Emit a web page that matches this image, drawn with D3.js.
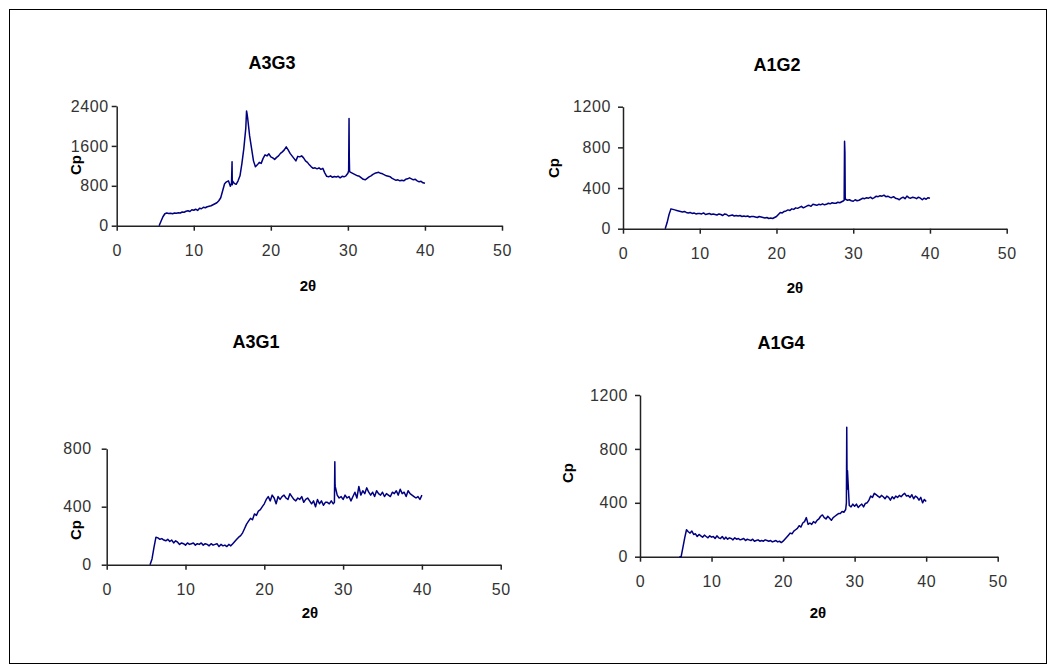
<!DOCTYPE html>
<html>
<head>
<meta charset="utf-8">
<script src="https://cdn.jsdelivr.net/npm/d3@7"></script>
<style>
html,body{margin:0;padding:0;background:#fff;}
svg{display:block;}
</style>
</head>
<body>
<svg id="chart" width="1055" height="672"></svg>
<script>
// ---------- DATA ----------
const twoTheta = [5.5,5.75,6,6.25,6.5,6.75,7,7.25,7.5,7.75,8,8.25,8.5,8.75,9,9.25,9.5,9.75,10,10.25,10.5,10.75,11,11.25,11.5,11.75,12,12.25,12.5,12.75,13,13.25,13.5,13.75,14,14.25,14.5,14.75,15,15.25,15.5,15.75,16,16.25,16.5,16.75,17,17.25,17.5,17.75,18,18.25,18.5,18.75,19,19.25,19.5,19.75,20,20.25,20.5,20.75,21,21.25,21.5,21.75,22,22.25,22.5,22.75,23,23.25,23.5,23.75,24,24.25,24.5,24.75,25,25.25,25.5,25.75,26,26.25,26.5,26.75,27,27.25,27.5,27.75,28,28.25,28.5,28.75,29,29.25,29.5,29.75,30,30.25,30.5,30.75,31,31.25,31.5,31.75,32,32.25,32.5,32.75,33,33.25,33.5,33.75,34,34.25,34.5,34.75,35,35.25,35.5,35.75,36,36.25,36.5,36.75,37,37.25,37.5,37.75,38,38.25,38.5,38.75,39,39.25,39.5,39.75,40];

const cpA3G3 = [0,90,
180,240,255,245, 250,240,255,250, 260,255,275,270, 290,300,285,320,
310,330,305,350, 340,370,360,380, 390,400,420,440, 460,500,560,700,
840,880,900,790, 820,850,830,900, 1000,1250,1550,1950, 2150,1800,1550,1300,
1180,1220,1270,1250, 1350,1420,1400,1440, 1380,1360,1330,1370, 1400,1450,1480,1520,
1580,1520,1450,1400, 1350,1300,1390,1380, 1400,1360,1300,1270, 1220,1180,1150,1160,
1140,1160,1130,1150, 1060,990,980,1000, 970,985,975,990, 960,990,980,1000,
1050,1080,1060,1040, 1020,1000,990,960, 930,920,950,980, 1000,1030,1050,1060,
1070,1050,1040,1020, 1000,990,980,950, 930,910,920,900, 910,900,930,940,
960,940,920,930, 900,880,890,860, 850];
const peakXA3G3 = [14.9,14.97,15.02,16.85,16.92,30.1,30.15,30.18,30.22];
const peakYA3G3 = [850,1280,900,2300,2240,1100,2150,1400,1100];

const cpA1G2 = [0,60,
140,195,190,185, 180,175,170,165, 170,160,155,160, 150,155,145,150,
150,145,155,140, 145,150,140,145, 140,135,145,140, 130,145,140,125,
130,135,125,130, 125,130,120,125, 120,125,115,120, 120,115,110,120,
115,110,105,110, 100,105,100,110, 120,140,160,155, 170,175,185,180,
195,190,205,200, 210,220,205,215, 225,230,220,240, 235,230,240,235,
245,235,240,250, 245,255,250,250, 260,255,265,275, 290,280,285,275,
270,285,275,280, 290,300,295,305, 300,310,295,305, 320,315,325,320,
330,315,320,310, 305,315,300,295, 285,300,310,295, 320,305,300,310,
305,295,310,300, 285,300,290,305, 300];
const peakXA1G2 = [28.82,28.87,28.92,28.96];
const peakYA1G2 = [280,860,750,300];

const cpA3G1 = [0,40,
120,190,185,175, 180,170,165,175, 160,170,150,165, 155,140,150,145,
135,150,140,145, 150,135,145,140, 150,135,145,140, 130,145,135,140,
145,125,140,130, 135,125,140,130, 145,160,175,190, 200,220,250,280,
300,320,310,350, 340,370,380,400, 420,450,470,440, 480,460,420,470,
450,470,480,460, 450,490,470,450, 440,460,450,470, 430,450,460,440,
420,440,400,450, 420,440,410,430, 430,420,440,420, 540,480,460,470,
450,480,460,470, 440,470,500,460, 540,480,510,490, 530,500,480,500,
470,510,490,480, 500,470,490,480, 470,500,490,510, 480,520,490,500,
470,510,490,480, 470,460,470,450, 480];
const peakXA3G1 = [28.9,28.95,28.98];
const peakYA3G1 = [430,710,560];

const cpA1G4 = [0,0,
70,140,200,185, 175,190,165,170, 150,165,155,145, 160,150,140,155,
145,150,135,155, 140,135,150,130, 145,130,140,135, 125,140,130,135,
125,130,135,120, 130,125,120,130, 115,120,125,115, 120,115,125,120,
115,120,110,115, 120,110,115,105, 115,130,145,160, 175,170,190,200,
210,230,220,250, 260,290,240,250, 240,260,250,270, 280,300,310,290,
280,300,285,270, 290,300,310,320, 320,335,330,350, 640,380,370,390,
375,390,365,380, 390,370,395,400, 420,450,440,470, 460,450,440,455,
445,430,450,440, 420,445,430,450, 440,455,445,460, 470,450,455,440,
460,430,450,440, 420,440,400,425, 410];
const peakXA1G4 = [28.85,28.9,28.95];
const peakYA1G4 = [400,960,500];

const xTicks = [0,10,20,30,40,50];
const yTicksA3G3 = [0,800,1600,2400];
const yTicksA1G2 = [0,400,800,1200];
const yTicksA3G1 = [0,400,800];
const yTicksA1G4 = [0,400,800,1200];
const titles = ["A3G3","A1G2","A3G1","A1G4"];
const xLabel = "2θ";
const yLabel = "Cp";

// ---------- LAYOUT ----------
const svg = d3.select("#chart");
svg.append("rect").attr("x",9.5).attr("y",9.5).attr("width",1037).attr("height",654)
  .attr("fill","#fff").attr("stroke","#000").attr("stroke-width",1);

const panels = [
  {title:titles[0], cp:cpA3G3, px:peakXA3G3, py:peakYA3G3, yTicks:yTicksA3G3,
   x0:116.7, x1:502, y0:225.7, y1:106, pad:3, titleX:272, titleY:63, xlX:308, xlY:285, ylX:75, ylY:165},
  {title:titles[1], cp:cpA1G2, px:peakXA1G2, py:peakYA1G2, yTicks:yTicksA1G2,
   x0:623, x1:1006.7, y0:228.7, y1:106.7, pad:7, titleX:777, titleY:65, xlX:795, xlY:287, ylX:553, ylY:168},
  {title:titles[2], cp:cpA3G1, px:peakXA3G1, py:peakYA3G1, yTicks:yTicksA3G1,
   x0:106.7, x1:500.7, y0:564.7, y1:448.7, pad:10, titleX:256, titleY:342, xlX:310, xlY:612, ylX:75, ylY:530},
  {title:titles[3], cp:cpA1G4, px:peakXA1G4, py:peakYA1G4, yTicks:yTicksA1G4,
   x0:640, x1:997.7, y0:556.7, y1:395, pad:7, titleX:781, titleY:343, xlX:818, xlY:612, ylX:567, ylY:473}
];

const font = "Liberation Sans, Arial, sans-serif";

panels.forEach(p => {
  const g = svg.append("g");
  const x = d3.scaleLinear().domain([0,50]).range([p.x0,p.x1]);
  const yMax = p.yTicks[p.yTicks.length-1];
  const y = d3.scaleLinear().domain([0,yMax]).range([p.y0,p.y1]);

  // merge grid data and sharp peaks
  const pts = twoTheta.map((t,i)=>[t,p.cp[i]]).concat(p.px.map((t,i)=>[t,p.py[i]]));
  pts.sort((a,b)=>a[0]-b[0]);

  const xAxis = d3.axisBottom(x).tickValues(xTicks).tickFormat(d3.format("d")).tickSize(5).tickPadding(14).tickSizeOuter(0);
  const yAxis = d3.axisLeft(y).tickValues(p.yTicks).tickFormat(d3.format("d")).tickSize(5).tickPadding(p.pad).tickSizeOuter(0);

  const gx = g.append("g").attr("transform",`translate(0,${p.y0})`).call(xAxis);
  const gy = g.append("g").attr("transform",`translate(${p.x0},0)`).call(yAxis);
  [gx,gy].forEach(a=>{
    a.selectAll("path").attr("stroke","#222").attr("stroke-width",1.5);
    a.selectAll("line").attr("stroke","#222").attr("stroke-width",1.5);
    a.selectAll("text").attr("font-family",font).attr("font-size",16).attr("letter-spacing","0.6px").attr("fill","#333");
  });

  g.append("path").datum(pts)
    .attr("d", d3.line().x(d=>x(d[0])).y(d=>y(d[1])))
    .attr("fill","none").attr("stroke","#000080").attr("stroke-width",1.5)
    .attr("stroke-linejoin","round");

  g.append("text").attr("x",p.titleX).attr("y",p.titleY).attr("text-anchor","middle")
    .attr("dominant-baseline","central").attr("font-family",font).attr("font-weight","bold")
    .attr("font-size",18).text(p.title);
  g.append("text").attr("x",p.xlX).attr("y",p.xlY).attr("text-anchor","middle")
    .attr("dominant-baseline","central").attr("font-family",font).attr("font-weight","bold")
    .attr("font-size",15).text(xLabel);
  g.append("text").attr("transform",`translate(${p.ylX},${p.ylY}) rotate(-90)`).attr("text-anchor","middle")
    .attr("dominant-baseline","central").attr("font-family",font).attr("font-weight","bold")
    .attr("font-size",15).text(yLabel);
});
</script>
</body>
</html>
